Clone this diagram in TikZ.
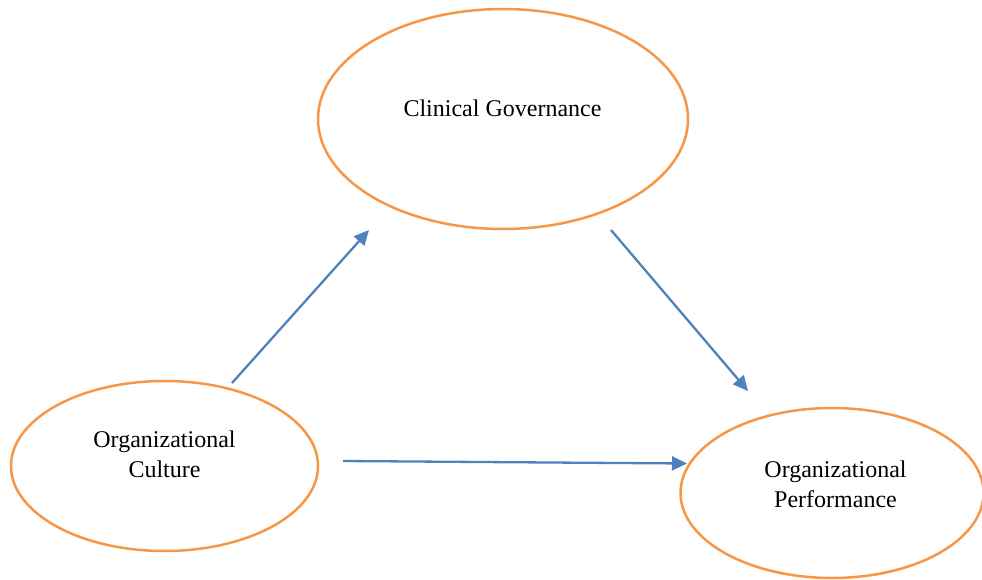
\documentclass[tikz,border=0pt]{standalone}
\usepackage{fontspec}
\setmainfont{Liberation Serif}
\usetikzlibrary{shapes.geometric,arrows.meta}
\definecolor{ellorange}{RGB}{247,150,70}
\definecolor{arrblue}{RGB}{79,129,189}
\begin{document}
\begin{tikzpicture}[x=1pt,y=1pt,
  oval/.style={draw=ellorange,line width=2.5pt,ellipse,inner sep=0pt},
  lbl/.style={align=center,inner sep=0pt,font=\fontsize{24}{30}\selectfont,anchor=base},
  link/.style={draw=arrblue,line width=2.3pt,-{Triangle[length=15pt,width=14pt]}}]
\useasboundingbox (0,0) rectangle (982,579);
\node[oval,minimum width=370pt,minimum height=220pt] (cg) at (503,460) {};
\node[oval,minimum width=307pt,minimum height=170pt] (oc) at (164.5,113) {};
\node[oval,minimum width=303pt,minimum height=170pt] (op) at (832,86) {};
\node[lbl] (cgt) at (502.5,462) {Clinical Governance};
\node[lbl] (oct) at (164.5,102) {Organizational\\Culture};
\node[lbl] (opt) at (835.5,72) {Organizational\\Performance};
\coordinate (a1s) at (232,196);
\coordinate (a1e) at (369,349);
\coordinate (a2s) at (611,349);
\coordinate (a2e) at (748,188);
\coordinate (a3s) at (343,118);
\coordinate (a3e) at (687,115.5);
\draw[link] (a1s) -- (a1e);
\draw[link] (a2s) -- (a2e);
\draw[link] (a3s) -- (a3e);
\end{tikzpicture}
\end{document}
